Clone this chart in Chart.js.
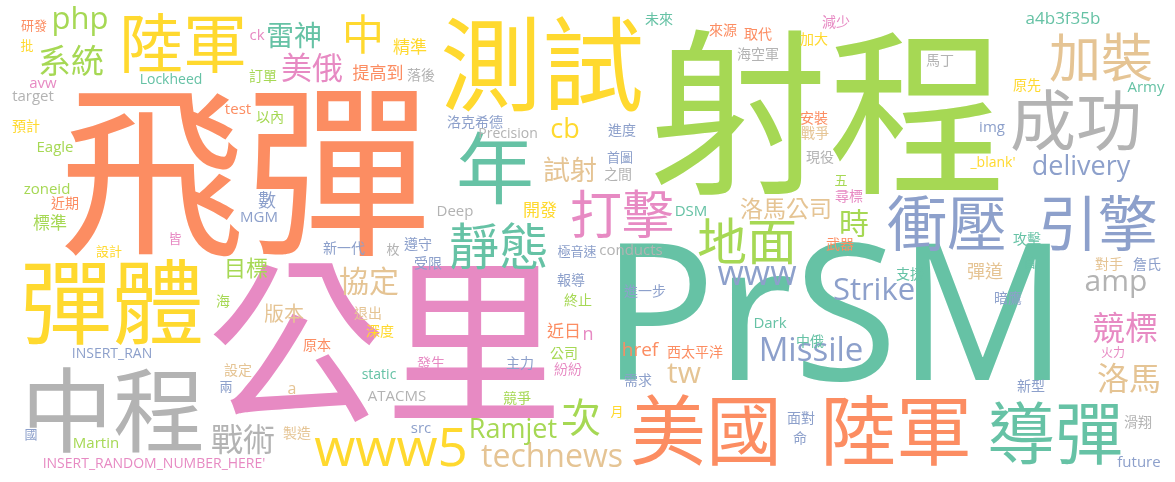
<!DOCTYPE html>
<html>
<head>
<meta charset="utf-8">
<script src="https://cdn.jsdelivr.net/npm/chart.js@4"></script>
<style>
    html, body { margin: 0; padding: 0; background: #fff; }
    #wrap { width: 1175px; height: 482px; }
</style>
</head>
<body>
<div id="wrap"><canvas id="cloud"></canvas></div>
<script>
// word cloud terms, their weight (drawn font size) and where the layout put them
const words = [
    '飛彈', '射程', 'PrSM', '公里', '測試', '中程', '彈體', '美國', '陸軍', '導彈',
    '陸軍', '成功', '年', '衝壓', '引擎', '加裝', '打擊', '地面', '靜態', 'www5',
    '中', '次', 'www', 'Missile', 'technews', '戰術', '競標', '洛馬', '系統', 'php',
    '美俄', 'Strike', 'amp', '協定', '時', 'tw', '雷神', 'Ramjet', '試射', 'cb',
    'delivery', '洛馬公司', '目標', '版本', 'href', '數', '彈道', 'n', 'a4b3f35b', '精準',
    '提高到', '近日', '開發', '標準', 'a', 'ck', 'Lockheed', 'avw', 'target', 'test',
    'Eagle', '以內', '預計', '訂單', '研發', '批', '落後', '洛克希德', 'Precision', '未來',
    '來源', '取代', '減少', '加大', '海空軍', '安裝', '戰爭', '進度', '首圖', '現役',
    '馬丁', '原先', 'Army', 'img', "_blank'", '攻擊', '首', '對手', '詹氏', '支援',
    '暗鷹', '火力', '新型', '滑翔', 'future', 'Dark', '中俄', '西太平洋', '需求', '月',
    '面對', '命', '深度', '原本', '退出', '公司', '紛紛', '發生', '主力', 'static',
    'ATACMS', '競爭', 'src', '製造', 'INSERT_RAN', '設定', '兩', '國', 'Martin', "INSERT_RANDOM_NUMBER_HERE'",
    'zoneid', '近期', 'MGM', '皆', '設計', '海', 'Deep', '新一代', '枚', '遵守',
    '受限', '極音速', '報導', '終止', '之間', '五', '尋標', '武器', 'conducts', 'DSM',
    '進一步'
];
const weights = [
    186, 178, 190, 178, 102, 92, 92, 76, 76, 68,
    64, 66, 78, 60, 60, 52, 52, 50, 50, 53,
    42, 40, 34, 33, 32, 32, 33, 32, 33, 31,
    31, 31, 30, 30, 30, 30, 28, 27, 27, 27,
    27, 23, 22, 20, 19, 18, 18, 18, 17, 17,
    17, 17, 17, 17, 16, 15, 14, 15, 15, 15,
    15, 14, 14, 14, 13, 13, 14, 14, 14, 14,
    14, 14, 14, 14, 14, 14, 14, 14, 13, 14,
    14, 14, 15, 15, 14, 14, 13, 14, 14, 14,
    14, 12, 14, 14, 15, 15, 14, 14, 14, 13,
    14, 14, 14, 14, 14, 14, 14, 14, 14, 14,
    15, 14, 15, 14, 14, 14, 13, 13, 15, 14,
    15, 14, 15, 13, 13, 14, 15, 14, 13, 14,
    14, 13, 14, 14, 14, 13, 14, 14, 15, 15,
    14
];
const xs = [
    245, 828, 835, 385, 542, 113, 112, 706, 896, 1055,
    183, 1076, 495, 947, 1098, 1101, 622, 747, 499, 391,
    363, 581, 757, 811, 552, 243, 1125, 1129, 71, 80,
    312, 874, 1116, 369, 854, 684, 294, 513, 570, 565,
    1081, 786, 246, 284, 640, 267, 985, 588, 1063, 410,
    378, 564, 540, 50, 292, 257, 171, 43, 33, 238,
    55, 270, 26, 263, 34, 27, 421, 475, 508, 659,
    723, 758, 836, 814, 758, 814, 815, 622, 620, 820,
    940, 1027, 1146, 992, 993, 1027, 1030, 1109, 1147, 910,
    1008, 1113, 1031, 1138, 1139, 770, 810, 695, 638, 617,
    801, 800, 380, 317, 368, 564, 568, 431, 520, 379,
    397, 517, 421, 297, 112, 238, 226, 31, 96, 154,
    47, 65, 259, 175, 109, 223, 455, 344, 393, 418,
    428, 577, 571, 578, 618, 841, 849, 840, 631, 691,
    645
];
const ys = [
    170, 112, 326, 341, 64, 410, 302, 430, 430, 433,
    43, 120, 168, 223, 223, 57, 214, 241, 246, 451,
    34, 417, 275, 352, 458, 439, 327, 378, 60, 20,
    67, 291, 282, 281, 223, 374, 35, 430, 170, 130,
    167, 208, 268, 313, 351, 200, 271, 335, 19, 47,
    73, 331, 210, 223, 389, 36, 80, 84, 97, 110,
    148, 117, 126, 76, 25, 45, 75, 122, 134, 19,
    30, 34, 22, 39, 54, 118, 133, 130, 157, 157,
    60, 85, 88, 128, 163, 239, 262, 264, 264, 274,
    298, 352, 386, 422, 463, 324, 341, 352, 380, 411,
    418, 438, 331, 345, 313, 353, 369, 363, 363, 375,
    397, 398, 429, 433, 354, 370, 386, 434, 444, 464,
    190, 203, 218, 238, 251, 301, 212, 248, 249, 244,
    263, 251, 280, 300, 174, 180, 196, 244, 251, 212,
    291
];
// colour group of each word (index into palette)
const tones = [
    0, 4, 1, 3, 5, 7, 5, 0, 0, 1,
    5, 7, 1, 2, 2, 6, 3, 4, 1, 5,
    5, 4, 2, 2, 6, 7, 3, 6, 4, 4,
    3, 2, 7, 6, 4, 6, 1, 4, 6, 5,
    2, 6, 4, 6, 0, 2, 6, 3, 1, 5,
    0, 0, 5, 4, 6, 3, 1, 3, 7, 0,
    4, 4, 5, 4, 0, 5, 7, 2, 7, 1,
    0, 0, 3, 5, 7, 0, 6, 2, 2, 7,
    7, 5, 1, 2, 5, 1, 1, 6, 2, 1,
    2, 3, 2, 7, 2, 1, 1, 0, 2, 5,
    2, 2, 5, 0, 6, 4, 3, 3, 2, 1,
    7, 4, 2, 6, 2, 6, 2, 2, 4, 3,
    4, 0, 2, 3, 5, 4, 7, 2, 7, 2,
    2, 2, 2, 4, 7, 4, 3, 0, 7, 1,
    2
];

const palette = ['#fc8d62', '#66c2a5', '#8da0cb', '#e78ac3', '#a6d854', '#ffd92f', '#e5c494', '#b3b3b3'];
const cjk = /[\u3400-\u9fff]/;

const wordPlugin = {
    id: 'words',
    afterDatasetsDraw(chart) {
        const ctx = chart.ctx;
        const meta = chart.getDatasetMeta(0);
        ctx.save();
        ctx.textAlign = 'center';
        ctx.textBaseline = 'middle';
        meta.data.forEach((pt, i) => {
            const family = cjk.test(words[i]) ? '"Noto Sans CJK TC"' : '"Open Sans", "Noto Sans"';
            ctx.font = `${weights[i]}px ${family}`;
            ctx.fillStyle = palette[tones[i]];
            ctx.fillText(words[i], pt.x, pt.y);
        });
        ctx.restore();
    }
};

new Chart(document.getElementById('cloud').getContext('2d'), {
    type: 'scatter',
    data: {
        datasets: [{
            data: words.map((w, i) => ({ x: xs[i], y: ys[i] })),
            pointRadius: 0,
            pointHoverRadius: 0
        }]
    },
    options: {
        responsive: true,
        maintainAspectRatio: false,
        animation: false,
        layout: { padding: 0 },
        plugins: { legend: { display: false }, tooltip: { enabled: false } },
        scales: {
            x: { type: 'linear', min: 0, max: 1175, display: false },
            y: { type: 'linear', min: 0, max: 482, reverse: true, display: false }
        }
    },
    plugins: [wordPlugin]
});
</script>
</body>
</html>
